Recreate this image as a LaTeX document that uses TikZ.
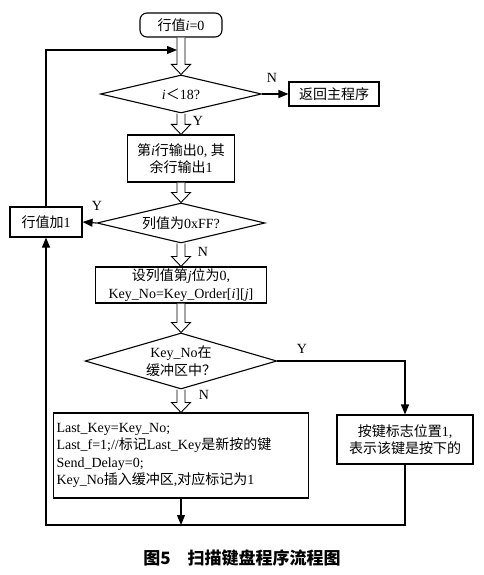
\documentclass[tikz,border=0pt]{standalone}
\usepackage{fontspec}
\setmainfont{Liberation Serif}
\newfontfamily\cjk{Noto Sans CJK SC}
\usetikzlibrary{arrows.meta,calc,shapes.geometric}
\newcommand\harrow[2]{%
  \draw[fill=white, line width=0.9pt, line join=miter]
    let \p1=(#1), \p2=(#2) in
    (\x1-4pt,\y1) -- (\x1-4pt,\y2+10pt) -- (\x1-9.5pt,\y2+10pt) -- (\x1,\y2)
    -- (\x1+9.5pt,\y2+10pt) -- (\x1+4pt,\y2+10pt) -- (\x1+4pt,\y1);}
\begin{document}
\begin{tikzpicture}[x=1pt,y=-1pt,
  font=\fontsize{14}{17.5}\selectfont,
  box/.style={draw, line width=1.1pt, align=center, inner sep=1pt},
  dia/.style={draw, diamond, line width=1.1pt, align=center, inner sep=0pt, aspect=4},
  conn/.style={line width=1.1pt},
  arr/.style={conn, -{Triangle[length=10pt,width=8pt]}},
  lab/.style={inner sep=0pt}]
\useasboundingbox (0,0) rectangle (484,575);
\fill[white] (0,0) rectangle (484,575);

\node[box, rounded corners=7pt, minimum width=82pt, minimum height=24pt] (start) at (181,25) {{\cjk 行值}\textit{i}=0};
\node[dia, minimum width=161pt, minimum height=38pt] (d1) at (181,94) {\textit{i}{\cjk ＜}18?};
\node[box, minimum width=90pt, minimum height=24pt] (ret) at (334,94) {{\cjk 返回主程序}};
\node[box, minimum width=107pt, minimum height=47pt] (b2) at (181,158.5) {{\cjk 第}\textit{i}{\cjk 行输出}0, {\cjk 其}\\{\cjk 余行输出}1};
\node[dia, minimum width=168pt, minimum height=40pt] (d2) at (181,223) {{\cjk 列值为}0xFF?};
\node[box, minimum width=72pt, minimum height=30pt] (inc) at (46,222) {{\cjk 行值加}1};
\node[box, minimum width=171pt, minimum height=36pt] (b3) at (181,285) {{\cjk 设列值第}\textit{j}{\cjk 位为}0,\\Key\_No=Key\_Order[\textit{i}][\textit{j}]};
\node[dia, minimum width=184pt, minimum height=56pt] (d3) at (181,361) {Key\_No{\cjk 在}\\{\cjk 缓冲区中？}};
\node[box, minimum width=136pt, minimum height=49pt] (rb) at (405,439.5) {{\cjk 按键标志位置}1,\\{\cjk 表示该键是按下的}};
\node[box, minimum width=255pt, minimum height=85pt, align=left, text width=249pt] (b4) at (181,455.5) {Last\_Key=Key\_No;\\Last\_f=1;//{\cjk 标记}Last\_Key{\cjk 是新按的键}\\Send\_Delay=0;\\Key\_No{\cjk 插入缓冲区},{\cjk 对应标记为}1};

\harrow{start.south}{d1.north}
\harrow{d1.south}{b2.north}
\harrow{b2.south}{d2.north}
\harrow{d2.south}{b3.north}
\harrow{b3.south}{d3.north}
\harrow{d3.south}{b4.north}

\coordinate (loopend) at (177,50);
\coordinate (bl) at (46,525);
\coordinate (bm) at (181,525);

\draw[arr] (inc.north) |- (loopend);
\draw[arr] (d1.east) -- (ret.west);
\draw[arr] (d2.west) -- (inc.east);
\draw[arr] (d3.east) -| (rb.north);
\draw[arr] (rb.south) |- (bl) -- (inc.south);
\draw[arr] (b4.south) -- (bm);

\node[lab] (n1) at (272,78) {N};
\node[lab] (y1) at (198,121) {Y};
\node[lab] (y2) at (97,206) {Y};
\node[lab] (n2) at (203,252) {N};
\node[lab] (y3) at (302,349) {Y};
\node[lab] (n3) at (204,395) {N};

\node[lab, font=\cjk\fontsize{17}{17}\selectfont\bfseries] (cap) at (242,558) {图5\quad 扫描键盘程序流程图};
\end{tikzpicture}
\end{document}
